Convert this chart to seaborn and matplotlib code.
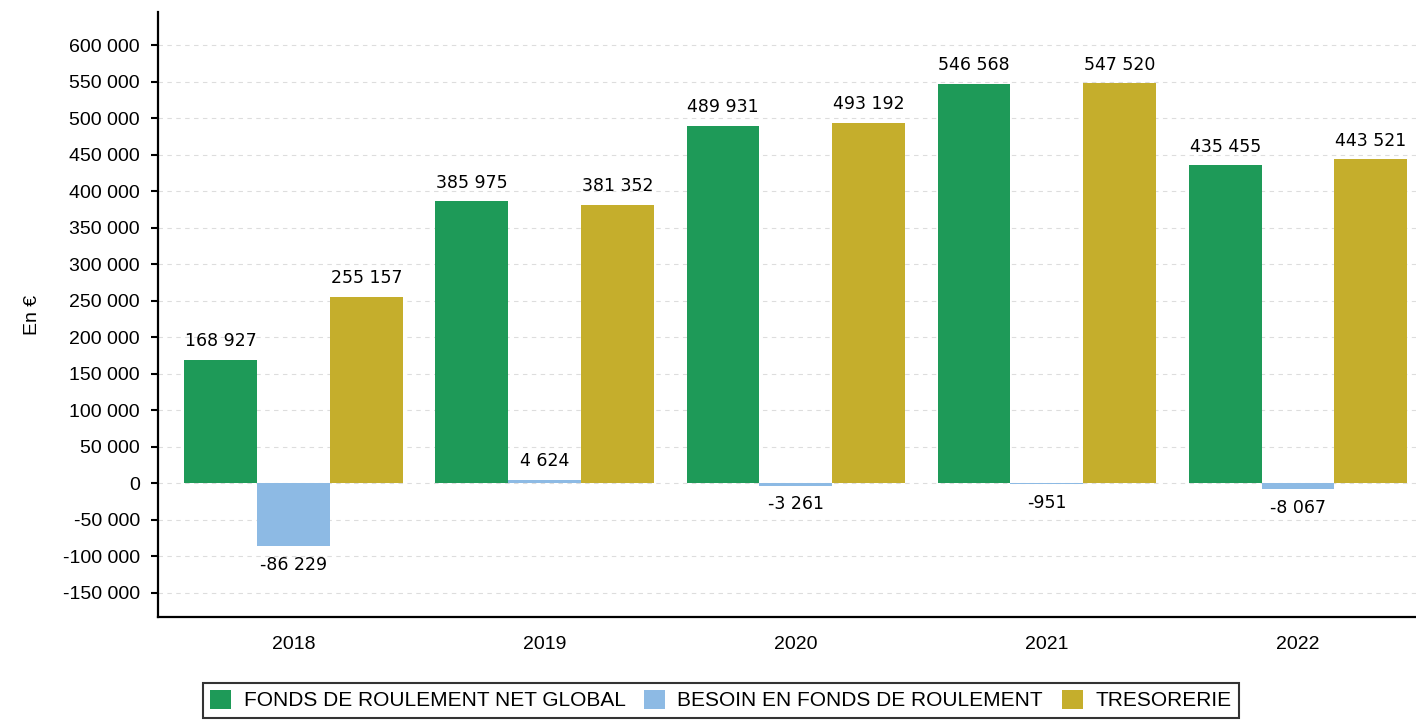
import pandas as pd
from matplotlib import pyplot as plt
import numpy as np
import seaborn as sns

annees = ["2018", "2019", "2020", "2021", "2022"]
series = ["FONDS DE ROULEMENT NET GLOBAL", "BESOIN EN FONDS DE ROULEMENT", "TRESORERIE"]
frng = [168927, 385975, 489931, 546568, 435455]
bfr = [-86229, 4624, -3261, -951, -8067]
tresorerie = [255157, 381352, 493192, 547520, 443521]
couleurs = ["#1e9a58", "#8dbae4", "#c5ae2c"]

df = pd.DataFrame(
    {
        "annee": annees * 3,
        "serie": [series[0]] * 5 + [series[1]] * 5 + [series[2]] * 5,
        "valeur": frng + bfr + tresorerie,
    }
)

sns.set_style("white")
plt.rcParams["font.family"] = ["Liberation Sans", "DejaVu Sans"]
plt.rcParams["text.color"] = "black"
plt.rcParams["axes.labelcolor"] = "black"
plt.rcParams["xtick.color"] = "black"
plt.rcParams["ytick.color"] = "black"

fig = plt.figure(figsize=(14.16, 7.24), dpi=100)
ax = fig.add_axes([0.1116, 0.148, 0.8884, 0.835])

sns.barplot(
    data=df,
    x="annee",
    y="valeur",
    hue="serie",
    hue_order=series,
    palette=couleurs,
    width=0.87,
    saturation=1,
    errorbar=None,
    linewidth=0,
    ax=ax,
)

# etiquettes de valeurs
for cont in ax.containers:
    for bar in cont:
        h = bar.get_height()
        txt = f"{int(round(h)):,}".replace(",", " ")
        xc = bar.get_x() + bar.get_width() / 2
        if h >= 0:
            ax.annotate(txt, (xc, h), xytext=(0, 7), textcoords="offset points",
                        ha="center", va="bottom", fontsize=12.5, family="DejaVu Sans")
        else:
            ax.annotate(txt, (xc, h), xytext=(0, -7), textcoords="offset points",
                        ha="center", va="top", fontsize=12.5, family="DejaVu Sans")

ax.set_ylim(-183000, 645000)
ax.set_xlim(-0.54, 4.47)
yt = np.arange(-150000, 600001, 50000)
ax.set_yticks(yt)
ax.set_yticklabels([f"{v:,}".replace(",", " ") for v in yt], fontsize=14)
ax.tick_params(axis="y", length=5, width=1.5, color="black", left=True, pad=8)
ax.tick_params(axis="x", length=0, labelsize=14, pad=14)
ax.yaxis.grid(True, linestyle=(0, (4, 4)), color="#dddddd", linewidth=0.8)
ax.set_axisbelow(True)
ax.set_xlabel("")
ax.set_ylabel("En €", fontsize=14, labelpad=16)
for s in ["top", "right"]:
    ax.spines[s].set_visible(False)
for s in ["left", "bottom"]:
    ax.spines[s].set_color("black")
    ax.spines[s].set_linewidth(1.6)

handles, labels = ax.get_legend_handles_labels()
ax.legend_.remove()
leg = fig.legend(
    handles,
    labels,
    loc="center",
    bbox_to_anchor=(0.509, 0.033),
    ncol=3,
    fontsize=15,
    frameon=True,
    fancybox=False,
    edgecolor="black",
    handlelength=1.0,
    handleheight=1.0,
    handletextpad=0.6,
    columnspacing=0.9,
    borderpad=0.35,
)
leg.get_frame().set_linewidth(1.5)

plt.savefig("out.png", dpi=100)
